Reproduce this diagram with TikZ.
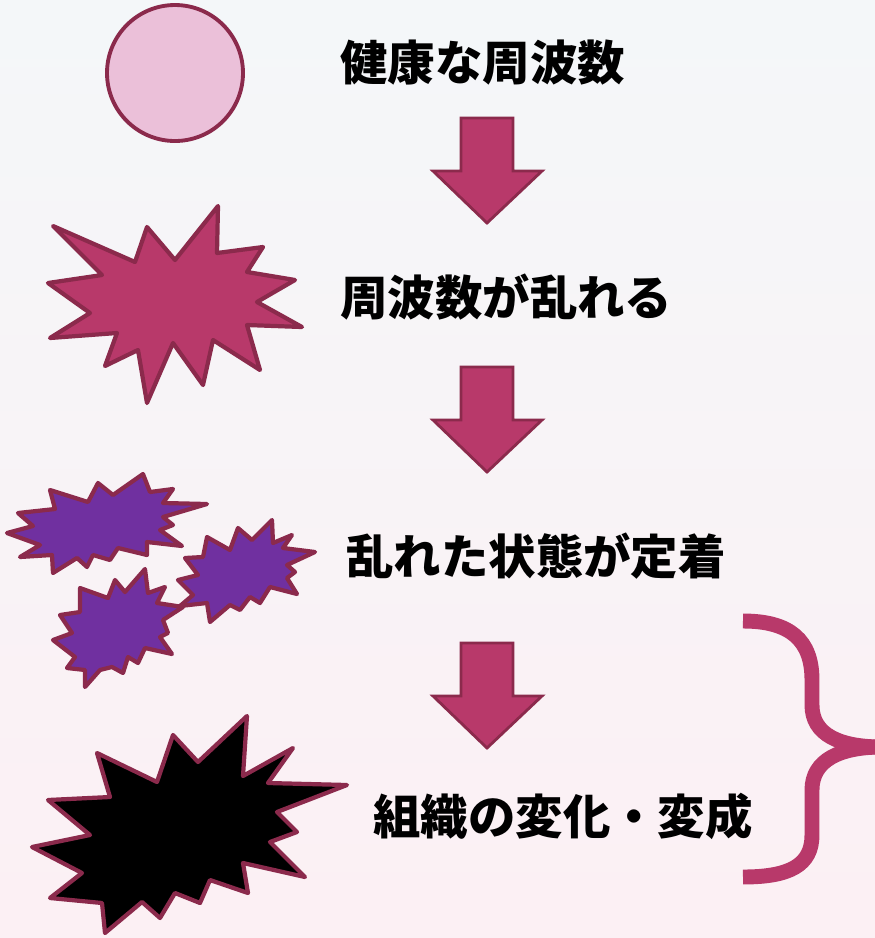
\documentclass[tikz,border=0pt]{standalone}
\usepackage{fontspec}
\usepackage{tikz}
\usetikzlibrary{positioning}
\newfontfamily\jpfont{Noto Sans CJK JP}
\definecolor{rim}{RGB}{139, 42, 76}
\definecolor{rose}{RGB}{184, 57, 106}
\definecolor{blush}{RGB}{235, 192, 217}
\definecolor{plum}{RGB}{112, 48, 160}
\definecolor{haze}{RGB}{244, 247, 249}
\definecolor{pinkhaze}{RGB}{252, 240, 244}
\tikzset{
	stage/.style={font=\jpfont\bfseries\fontsize{27}{32}\selectfont, anchor=west, inner sep=0pt},
	blockarr/.style={fill=rose, draw=rim, line width=1.6pt, line join=miter},
	burst/.style={draw=rim, line width=2.4pt, line join=round},
}
\newcommand{\downarr}[1]{% top of the arrow
	\draw[blockarr] (461,#1) -- (513,#1) -- (513,#1+53) -- (542,#1+53) -- (487,#1+105) -- (433,#1+53) -- (461,#1+53) -- cycle;
}
\begin{document}
\begin{tikzpicture}[x=0.02cm, y=-0.02cm]
				\useasboundingbox (0,0) rectangle (875,938);
				\shade[top color=haze, middle color=white, bottom color=pinkhaze] (0,0) rectangle (875,938);
	
				% the four stages
				\node[stage] (healthy) at (340,63) {健康な周波数};
				\node[stage] (disturb) at (340,297) {周波数が乱れる};
				\node[stage] (settle) at (346,556) {乱れた状態が定着};
				\node[stage] (tissue) at (373,816) {組織の変化・変成};
	
				\downarr{118}
				\downarr{367}
				\downarr{643}
	
				% healthy: round
				\draw[fill=blush, draw=rim, line width=2.2pt] (175,73) circle (68);
	
				% disturbed: one burst
				\draw[burst, fill=rose] (53,226) -- (135,262) -- (147,227) -- (175,260) -- (218,206) -- (217,253) -- (263,247) -- (247,272) -- (295,280) -- (257,302) -- (302,327) -- (247,325) -- (260,370) -- (213,340) -- (203,385) -- (173,343) -- (147,403) -- (138,350) -- (105,366) -- (117,333) -- (50,338) -- (90,313) -- (48,283) -- (102,275) -- cycle;
	
				% settled: three small bursts
				\draw[burst, fill=plum] (18,513) -- (55,509) -- (50,490) -- (88,502) -- (98,483) -- (113,495) -- (143,474) -- (150,492) -- (173,489) -- (163,503) -- (207,504) -- (163,517) -- (173,525) -- (160,530) -- (182,546) -- (147,542) -- (147,555) -- (118,548) -- (110,560) -- (93,555) -- (87,567) -- (77,558) -- (53,573) -- (52,555) -- (20,557) -- (40,545) -- (7,533) -- (33,526) -- cycle;
				\draw[burst, fill=plum] (207,537) -- (230,550) -- (238,528) -- (252,540) -- (272,520) -- (273,543) -- (292,535) -- (283,548) -- (315,552) -- (287,565) -- (295,572) -- (287,578) -- (297,594) -- (270,587) -- (260,603) -- (250,597) -- (240,610) -- (230,605) -- (210,622) -- (207,603) -- (180,606) -- (193,595) -- (178,580) -- (198,575) -- (185,558) -- (203,557) -- cycle;
				\draw[burst, fill=plum] (80,588) -- (108,598) -- (115,580) -- (125,592) -- (145,569) -- (148,593) -- (165,587) -- (157,603) -- (183,607) -- (163,620) -- (168,633) -- (160,637) -- (172,654) -- (145,648) -- (138,663) -- (128,657) -- (123,673) -- (112,667) -- (100,670) -- (85,687) -- (85,670) -- (67,668) -- (75,657) -- (53,640) -- (72,633) -- (60,615) -- (80,612) -- cycle;
	
				% changed tissue: black burst
				\draw[burst, fill=black] (97,753) -- (157,782) -- (173,735) -- (198,762) -- (247,716) -- (243,776) -- (293,748) -- (268,783) -- (347,785) -- (277,812) -- (297,832) -- (270,842) -- (305,877) -- (243,863) -- (248,893) -- (210,880) -- (200,903) -- (175,893) -- (160,918) -- (142,902) -- (105,933) -- (102,903) -- (50,898) -- (82,873) -- (32,847) -- (90,835) -- (48,800) -- (110,797) -- cycle;
	
				% brace over the last two stages
				\coordinate (btop) at (743,621);
				\coordinate (bbot) at (743,877);
				\coordinate (btip) at (882,747);
				\draw[rose, line width=8.5pt] (btop) .. controls (790,621) and (812,640) .. (812,680) -- (812,705) .. controls (812,735) and (840,747) .. (btip);
				\draw[rose, line width=8.5pt] (btip) .. controls (840,747) and (812,760) .. (812,790) -- (812,835) .. controls (812,865) and (790,877) .. (bbot);
			 \end{tikzpicture}
\end{document}
